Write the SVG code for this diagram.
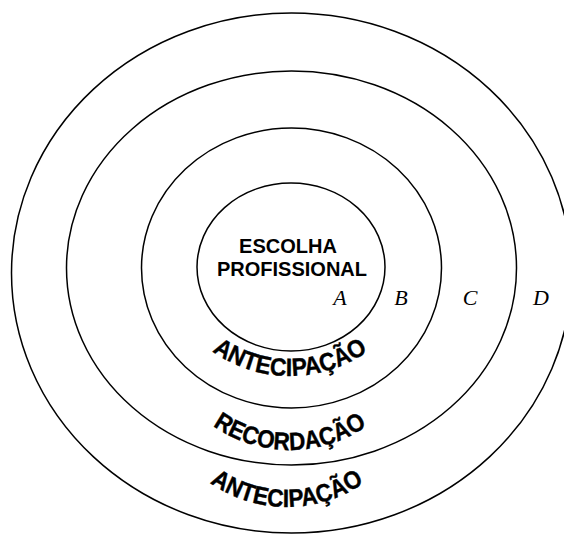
<svg xmlns="http://www.w3.org/2000/svg" width="564" height="534" viewBox="0 0 564 534">
<style>
.ring{fill:none;stroke:#000;stroke-width:1.5}
.center{font-family:"Liberation Sans",Arial,sans-serif;font-weight:bold;font-size:20px;fill:#000;text-anchor:middle}
.letter{font-family:"Liberation Serif","Times New Roman",serif;font-style:italic;font-size:22px;fill:#000;text-anchor:middle}
.arc{font-family:"Liberation Sans",Arial,sans-serif;font-weight:bold;font-size:25px;fill:#000;stroke:#000;stroke-width:0.4;text-anchor:middle}
</style>
<defs>
<path id="arc1" d="M173.1,308.5 A135,135 0 0 0 406.9,308.5"/>
<path id="arc2" d="M173.1,382.5 A135,135 0 0 0 406.9,382.5"/>
<path id="arc3" d="M170.1,439.5 A135,135 0 0 0 403.9,439.5"/>
</defs>
<rect width="564" height="534" fill="#fff"/>
<g id="ring-d">
<ellipse class="ring" cx="291.5" cy="273" rx="280" ry="260"/>
<text class="letter" x="541" y="305">D</text>
</g>
<g id="ring-c">
<ellipse class="ring" cx="291.5" cy="268" rx="225" ry="197"/>
<text class="letter" x="470" y="305">C</text>
</g>
<g id="ring-b">
<ellipse class="ring" cx="291.5" cy="268" rx="150" ry="140"/>
<text class="letter" x="401" y="305">B</text>
</g>
<g id="ring-a">
<ellipse class="ring" cx="291" cy="267" rx="94" ry="84"/>
<text class="center" x="288" y="253">ESCOLHA</text>
<text class="center" x="292" y="276">PROFISSIONAL</text>
<text class="letter" x="340" y="305">A</text>
</g>
<g id="label-antecipacao-inner">
<text class="arc"><textPath href="#arc1" startOffset="50%" textLength="166" lengthAdjust="spacingAndGlyphs">ANTECIPAÇÃO</textPath></text>
</g>
<g id="label-recordacao">
<text class="arc"><textPath href="#arc2" startOffset="50%" textLength="164" lengthAdjust="spacingAndGlyphs">RECORDAÇÃO</textPath></text>
</g>
<g id="label-antecipacao-outer">
<text class="arc"><textPath href="#arc3" startOffset="50%" textLength="164" lengthAdjust="spacingAndGlyphs">ANTECIPAÇÃO</textPath></text>
</g>
</svg>
